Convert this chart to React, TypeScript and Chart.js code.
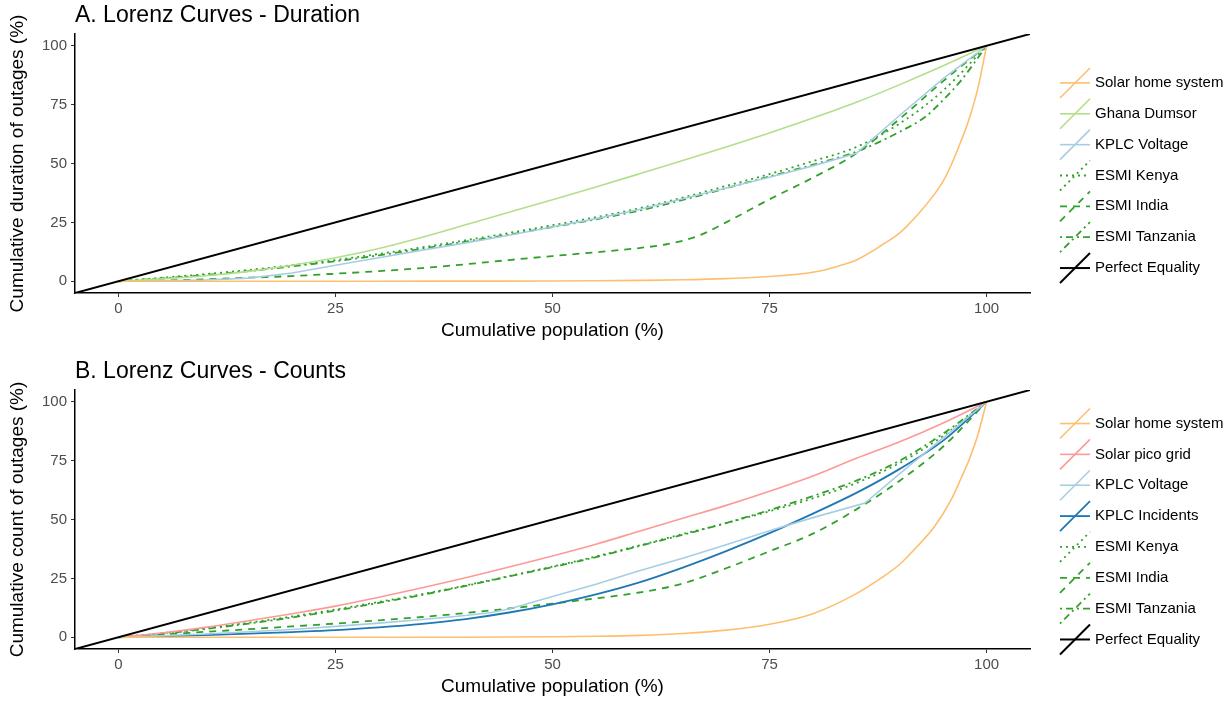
import React, { useEffect, useRef } from 'react';
import { Chart, registerables } from 'chart.js';

Chart.register(...registerables);
Chart.defaults.font.family = "'Liberation Sans', Arial, Helvetica, sans-serif";

// ---------- data ----------
const AXIS_TICKS = [0, 25, 50, 75, 100];
const POP = [0, 5, 10, 15, 20, 25, 30, 35, 40, 45, 50, 55, 60, 65, 70, 75, 80, 85, 90, 95, 100];
const EQUALITY_X = [-5, 105];
const EQUALITY_Y = [-5, 105];

// Panel A: duration
const A_SHS_X = [0, 30, 40, 50, 55, 60, 65, 70, 75, 80, 83, 85, 88, 90, 92, 94, 95, 96, 97, 98, 99, 100];
const A_SHS_Y = [0, 0, 0.05, 0.1, 0.2, 0.35, 0.6, 1.1, 2, 3.8, 6.5, 9, 15.5, 20.5, 28, 37, 42.5, 50, 59, 69, 82, 100];
const A_GHANA_Y = [0, 1, 2.3, 4.2, 6.8, 10, 13.9, 18.7, 24, 29.3, 34.6, 40, 45.6, 51.3, 57, 63, 69.3, 76, 83.5, 91.5, 100];
const A_KPLCV_Y = [0, 0.2, 0.5, 1.3, 3.5, 6.8, 10, 13.2, 16.3, 19.5, 23, 26.6, 30.5, 35, 39.6, 44.2, 49, 54.3, 70.5, 86, 100];
const A_KENYA_Y = [0, 1.5, 3, 4.8, 6.8, 9, 11.6, 14.4, 17.4, 20.5, 23.8, 27.2, 31, 35.5, 40.5, 45.5, 51, 57, 67, 81, 100];
const A_INDIA_X = [0, 5, 10, 15, 20, 25, 30, 35, 40, 45, 50, 55, 60, 63, 65, 67, 70, 75, 80, 85, 90, 95, 100];
const A_INDIA_Y = [0, 0.3, 0.8, 1.5, 2.2, 3.2, 4.3, 5.6, 7.2, 9, 10.7, 12.3, 14.1, 15.6, 17.2, 19.6, 25, 34.8, 44, 54.3, 69, 85, 100];
const A_TANZ_X = [0, 5, 10, 15, 20, 25, 30, 35, 40, 45, 50, 55, 60, 65, 70, 75, 80, 85, 90, 93, 95, 97, 100];
const A_TANZ_Y = [0, 1.2, 2.6, 4.3, 6.3, 8.5, 11, 13.8, 16.8, 19.8, 23, 26.3, 30, 34.5, 39.5, 44.5, 49.5, 55, 63.5, 70, 77, 85, 100];

// Panel B: counts
const B_SHS_X = [0, 40, 50, 55, 60, 65, 70, 75, 80, 85, 88, 90, 92, 94, 96, 97, 98, 99, 100];
const B_SHS_Y = [0, 0, 0.2, 0.4, 0.8, 1.6, 3, 5.5, 10, 18.5, 25.5, 31, 38.5, 47, 59, 67, 75.5, 86, 100];
const B_PICO_Y = [0, 1.8, 4.2, 7, 10, 13.2, 17, 21, 25.3, 29.8, 34.5, 39.5, 45, 50.5, 56, 62, 68.5, 76, 83, 91, 100];
const B_KPLCV_X = [0, 5, 10, 15, 20, 25, 30, 35, 40, 43, 45, 50, 55, 60, 65, 70, 75, 80, 86, 90, 95, 100];
const B_KPLCV_Y = [0, 0.6, 1.4, 2.3, 3.3, 4.6, 6, 7.5, 9.2, 10.5, 12, 17.3, 22.5, 28.2, 33.5, 39.3, 45.2, 50.8, 57, 69.5, 84.7, 100];
const B_KPLCI_Y = [0, 0.4, 0.9, 1.5, 2.2, 3, 4.2, 5.7, 7.7, 10.5, 14, 18.2, 23.3, 29.6, 36.6, 44.2, 52.5, 61.3, 71.5, 83.5, 100];
const B_KENYA_Y = [0, 1.7, 3.8, 6.2, 8.8, 11.8, 15, 18.3, 22, 26, 30, 34.3, 39, 43.8, 48.5, 53.5, 59, 65.5, 74, 85.5, 100];
const B_INDIA_Y = [0, 1.1, 2.3, 3.4, 4.6, 5.8, 7.2, 8.6, 10.3, 12.2, 14.3, 16.5, 19, 22.8, 29.3, 36.5, 44, 54.3, 66.5, 81, 100];
const B_TANZ_Y = [0, 1.5, 3.5, 5.8, 8.4, 11.3, 14.6, 18, 21.8, 25.8, 29.8, 34, 38.7, 43.5, 48.5, 54, 60, 66.5, 75, 86.5, 100];

// ---------- styles ----------
const DOTTED = [2, 4];
const DASHED = [7, 6];
const DOTDASH = [2, 4, 7, 4];

type Series = { label: string; xs: number[]; ys: number[]; color: string; dash: number[]; width: number; straight?: boolean };

const SERIES_A: Series[] = [
  { label: 'Solar home system', xs: A_SHS_X, ys: A_SHS_Y, color: '#fdbf6f', dash: [], width: 1.6 },
  { label: 'Ghana Dumsor', xs: POP, ys: A_GHANA_Y, color: '#b2df8a', dash: [], width: 1.6 },
  { label: 'KPLC Voltage', xs: POP, ys: A_KPLCV_Y, color: '#a6cee3', dash: [], width: 1.6, straight: true },
  { label: 'ESMI Kenya', xs: POP, ys: A_KENYA_Y, color: '#33a02c', dash: DOTTED, width: 1.8 },
  { label: 'ESMI India', xs: A_INDIA_X, ys: A_INDIA_Y, color: '#33a02c', dash: DASHED, width: 1.8 },
  { label: 'ESMI Tanzania', xs: A_TANZ_X, ys: A_TANZ_Y, color: '#33a02c', dash: DOTDASH, width: 1.8 },
  { label: 'Perfect Equality', xs: EQUALITY_X, ys: EQUALITY_Y, color: '#000000', dash: [], width: 2, straight: true },
];

const SERIES_B: Series[] = [
  { label: 'Solar home system', xs: B_SHS_X, ys: B_SHS_Y, color: '#fdbf6f', dash: [], width: 1.6 },
  { label: 'Solar pico grid', xs: POP, ys: B_PICO_Y, color: '#fb9a99', dash: [], width: 1.6 },
  { label: 'KPLC Voltage', xs: B_KPLCV_X, ys: B_KPLCV_Y, color: '#a6cee3', dash: [], width: 1.6, straight: true },
  { label: 'KPLC Incidents', xs: POP, ys: B_KPLCI_Y, color: '#1f78b4', dash: [], width: 1.8 },
  { label: 'ESMI Kenya', xs: POP, ys: B_KENYA_Y, color: '#33a02c', dash: DOTTED, width: 1.8 },
  { label: 'ESMI India', xs: POP, ys: B_INDIA_Y, color: '#33a02c', dash: DASHED, width: 1.8 },
  { label: 'ESMI Tanzania', xs: POP, ys: B_TANZ_Y, color: '#33a02c', dash: DOTDASH, width: 1.8 },
  { label: 'Perfect Equality', xs: EQUALITY_X, ys: EQUALITY_Y, color: '#000000', dash: [], width: 2, straight: true },
];

const FONT = "'Liberation Sans', Arial, Helvetica, sans-serif";

const overlayPlugin = {
  id: 'overlay',
  afterDraw(chart: any, _args: any, opts: any) {
    const ctx = chart.ctx as CanvasRenderingContext2D;
    ctx.save();
    ctx.fillStyle = '#000';
    ctx.textAlign = 'left';
    ctx.textBaseline = 'alphabetic';
    ctx.font = `23px ${FONT}`;
    ctx.fillText(opts.title, chart.chartArea.left, 22);

    const ds = chart.data.datasets;
    const n = ds.length;
    const spacing = 30.85;
    const cy = 175.5;
    const x0 = 1060;
    const w = 30;
    const h = 30;
    ds.forEach((d: any, i: number) => {
      const y = cy + (i - (n - 1) / 2) * spacing;
      ctx.strokeStyle = d.borderColor;
      ctx.lineWidth = d.borderWidth;
      ctx.setLineDash(d.borderDash || []);
      ctx.beginPath();
      ctx.moveTo(x0, y + h / 2);
      ctx.lineTo(x0 + w, y - h / 2);
      ctx.stroke();
      ctx.beginPath();
      ctx.moveTo(x0, y);
      ctx.lineTo(x0 + w, y);
      ctx.stroke();
      ctx.setLineDash([]);
      ctx.fillStyle = '#000';
      ctx.font = `15px ${FONT}`;
      ctx.textBaseline = 'middle';
      ctx.fillText(d.label, 1095, y);
    });
    ctx.restore();
  },
};

function LorenzPanel({ title, yTitle, series, top }: { title: string; yTitle: string; series: Series[]; top: number }) {
  const ref = useRef<HTMLCanvasElement>(null);
  useEffect(() => {
    const datasets = series.map((s) => ({
      label: s.label,
      data: s.xs.map((x, i) => ({ x, y: s.ys[i] })),
      borderColor: s.color,
      backgroundColor: s.color,
      borderWidth: s.width,
      borderDash: s.dash,
      pointRadius: 0,
      fill: false,
      tension: 0,
      cubicInterpolationMode: s.straight ? 'default' : 'monotone',
      order: s.label === 'Perfect Equality' ? 0 : 1,
    }));
    const axisCommon = (text: string) => ({
      type: 'linear' as const,
      min: -5,
      max: 105,
      afterBuildTicks: (s: any) => {
        s.ticks = AXIS_TICKS.map((v) => ({ value: v }));
      },
      grid: { display: true, drawOnChartArea: false, drawTicks: true, tickLength: 4, color: '#333333', lineWidth: 1 },
      border: { display: true, color: '#000000', width: 1.5 },
      ticks: { color: '#4d4d4d', font: { size: 15 }, padding: 3, autoSkip: false, maxRotation: 0, callback: (v: any) => String(v) },
      title: { display: true, text, color: '#000000', font: { size: 19 } },
    });
    const xAxis: any = axisCommon('Cumulative population (%)');
    xAxis.afterFit = (s: any) => {
      s.height = 58;
    };
    xAxis.title.padding = { top: 0, bottom: 9 };
    const yAxis: any = axisCommon(yTitle);
    yAxis.afterFit = (s: any) => {
      s.width = 75;
    };
    yAxis.title.padding = { top: 6, bottom: 0 };
    yAxis.ticks.padding = 4;

    const chart = new Chart(ref.current as HTMLCanvasElement, {
      type: 'line',
      data: { datasets } as any,
      options: {
        responsive: false,
        animation: false,
        devicePixelRatio: 1,
        layout: { padding: { left: 0, right: 200, top: 34, bottom: 0 } },
        plugins: {
          legend: { display: false },
          tooltip: { enabled: false },
          overlay: { title },
        } as any,
        scales: { x: xAxis, y: yAxis },
      },
      plugins: [overlayPlugin as any],
    });
    return () => chart.destroy();
  }, []);
  return (
    <canvas
      ref={ref}
      width={1230}
      height={351}
      style={{ position: 'absolute', left: 0, top, width: 1230, height: 351, display: 'block' }}
    />
  );
}

export default function App() {
  return (
    <div style={{ position: 'fixed', left: 0, top: 0, width: 1230, height: 702, overflow: 'hidden', background: '#ffffff' }}>
      <LorenzPanel title="A. Lorenz Curves - Duration" yTitle="Cumulative duration of outages (%)" series={SERIES_A} top={0} />
      <LorenzPanel title="B. Lorenz Curves - Counts" yTitle="Cumulative count of outages (%)" series={SERIES_B} top={356} />
    </div>
  );
}
